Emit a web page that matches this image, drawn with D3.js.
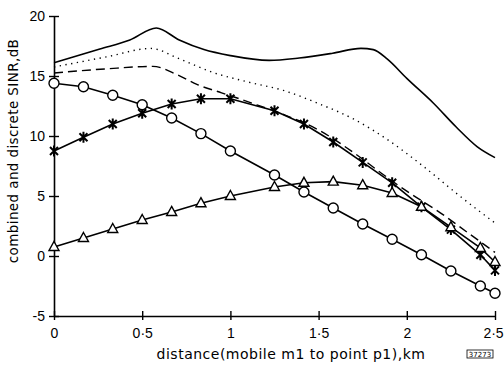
<!DOCTYPE html>
<html>
<head>
<meta charset="utf-8">
<script src="https://cdn.jsdelivr.net/npm/d3@7"></script>
<style>
  body { margin: 0; background: #fff; }
  text { font-family: "DejaVu Sans", sans-serif; fill: #000; }
</style>
</head>
<body>
<svg id="chart" width="504" height="367"></svg>
<script>
// marker positions along the route, km
const markerDist = [0, 0.167, 0.333, 0.5, 0.667, 0.833, 1.0, 1.25, 1.417, 1.583, 1.75, 1.917, 2.083, 2.25, 2.417, 2.5];
// discrete SINR series, dB
const circleSinr = [14.4, 14.1, 13.4, 12.6, 11.5, 10.2, 8.75, 6.75, 5.33, 4.0, 2.67, 1.4, 0.1, -1.25, -2.5, -3.1];
const starSinr = [8.75, 9.9, 11.0, 11.9, 12.67, 13.1, 13.1, 12.1, 11.0, 9.5, 7.8, 6.1, 4.1, 2.2, 0.1, -1.2];
const triSinr = [0.75, 1.5, 2.25, 3.0, 3.67, 4.4, 5.0, 5.75, 6.1, 6.2, 5.9, 5.25, 4.1, 2.4, 0.67, -0.5];

// combined SINR curves
const solidDist = [0, 0.26, 0.43, 0.58, 0.71, 0.85, 1.0, 1.22, 1.39, 1.58, 1.74, 1.81, 1.89, 2.0, 2.15, 2.28, 2.4, 2.5];
const solidSinr = [16.1, 17.25, 18.0, 19.0, 18.0, 17.2, 16.7, 16.3, 16.5, 16.9, 17.3, 17.2, 16.4, 14.8, 12.75, 10.75, 9.1, 8.2];
const dottedDist = [0, 0.3, 0.55, 0.7, 0.9, 1.1, 1.3, 1.5, 1.7, 1.9, 2.1, 2.3, 2.5];
const dottedSinr = [15.75, 16.6, 17.3, 16.5, 15.3, 14.5, 13.8, 12.7, 11.4, 9.6, 7.4, 5.0, 2.75];
const dashedDist = [0, 0.3, 0.56, 0.7, 0.81, 0.95, 1.15, 1.3, 1.5, 1.7, 1.87, 2.0, 2.19, 2.35, 2.5];
const dashedSinr = [15.25, 15.6, 15.8, 15.1, 14.3, 13.6, 12.6, 11.8, 10.5, 8.6, 6.75, 5.4, 3.6, 1.9, 0.3];

const xTicks = [0, 0.5, 1, 1.5, 2, 2.5];
const xTickLabels = ["0", "0·5", "1", "1·5", "2", "2·5"];
const yTicks = [-5, 0, 5, 10, 15, 20];

let svg = d3.select("#chart");
let x = d3.scaleLinear().domain([0, 2.5]).range([54, 495]);
let y = d3.scaleLinear().domain([-5, 20]).range([316, 16]);

// axes
let xAxis = d3.axisBottom(x).tickValues(xTicks).tickSize(0)
    .tickFormat((d, i) => xTickLabels[i]);
let gx = svg.append("g").attr("transform", "translate(0," + y(-5) + ")").call(xAxis);
gx.select(".domain").attr("stroke-width", 1.6);
gx.selectAll("text").attr("dy", 0).attr("y", 22)
    .style("font-family", "'Liberation Sans', sans-serif").style("font-size", "14px")
    .attr("dx", (d, i) => i === xTicks.length - 1 ? -2 : 0);
gx.selectAll(".tick").append("line").attr("y1", -5).attr("y2", 4)
    .attr("stroke", "#000").attr("stroke-width", 1.4);

let yAxis = d3.axisLeft(y).tickValues(yTicks).tickSize(0).tickFormat(d => d);
let gy = svg.append("g").attr("transform", "translate(" + x(0) + ",0)").call(yAxis);
gy.select(".domain").attr("stroke-width", 1.6);
gy.selectAll("text").attr("x", -9)
    .style("font-family", "'Liberation Sans', sans-serif").style("font-size", "14px");
gy.selectAll(".tick").append("line").attr("x1", -5).attr("x2", 5)
    .attr("stroke", "#000").attr("stroke-width", 1.4);

// smooth combined curves
let curveLine = d3.line().x(d => x(d[0])).y(d => y(d[1])).curve(d3.curveMonotoneX);
let zip = (a, b) => a.map((v, i) => [v, b[i]]);

svg.append("path").datum(zip(solidDist, solidSinr)).attr("d", curveLine)
    .attr("fill", "none").attr("stroke", "#000").attr("stroke-width", 1.6);
svg.append("path").datum(zip(dottedDist, dottedSinr)).attr("d", curveLine)
    .attr("fill", "none").attr("stroke", "#000").attr("stroke-width", 1.4)
    .attr("stroke-dasharray", "1.3,4.5");
svg.append("path").datum(zip(dashedDist, dashedSinr)).attr("d", curveLine)
    .attr("fill", "none").attr("stroke", "#000").attr("stroke-width", 1.4)
    .attr("stroke-dasharray", "9,5");

// discrete series with markers
let straight = d3.line().x(d => x(d[0])).y(d => y(d[1]));
let series = [
    { vals: starSinr, shape: "star" },
    { vals: triSinr, shape: "tri" },
    { vals: circleSinr, shape: "circle" }
];
let starPath = "M-4,-4L4,4M-4,4L4,-4M0,-5.5L0,5.5";
let triPath = "M0,-5.5L5,3.5L-5,3.5Z";

series.forEach(s => {
    let pts = zip(markerDist, s.vals);
    svg.append("path").datum(pts).attr("d", straight)
        .attr("fill", "none").attr("stroke", "#000").attr("stroke-width", 1.6);
    let g = svg.append("g").selectAll("g").data(pts).enter().append("g")
        .attr("transform", d => "translate(" + x(d[0]) + "," + y(d[1]) + ")");
    if (s.shape === "circle") {
        g.append("circle").attr("r", 5).attr("fill", "#fff")
            .attr("stroke", "#000").attr("stroke-width", 1.4);
    } else if (s.shape === "tri") {
        g.append("path").attr("d", triPath).attr("fill", "#fff")
            .attr("stroke", "#000").attr("stroke-width", 1.4);
    } else {
        g.append("path").attr("d", starPath).attr("fill", "none")
            .attr("stroke", "#000").attr("stroke-width", 2);
    }
});

// axis titles
svg.append("text").attr("x", 291).attr("y", 359).attr("text-anchor", "middle")
    .style("font-size", "14px").style("letter-spacing", "0.5px")
    .text("distance(mobile m1 to point p1),km");
svg.append("text").attr("transform", "translate(18,151) rotate(-90)")
    .attr("text-anchor", "middle").style("font-size", "13.5px")
    .style("letter-spacing", "0.4px")
    .text("combined and discrete SINR,dB");

// figure reference tag
svg.append("rect").attr("x", 467).attr("y", 350).attr("width", 26).attr("height", 8)
    .attr("fill", "none").attr("stroke", "#000").attr("stroke-width", 0.8);
svg.append("text").attr("x", 480).attr("y", 357).attr("text-anchor", "middle")
    .style("font-size", "7px").text("37273");
</script>
</body>
</html>
